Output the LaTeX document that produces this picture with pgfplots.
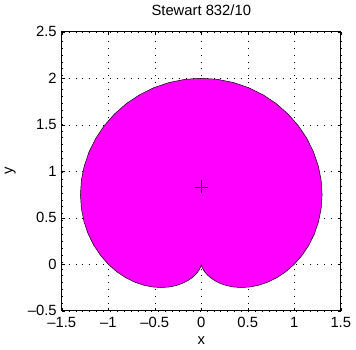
\documentclass[border=0pt]{standalone}
\usepackage{pgfplots}
\pgfplotsset{compat=1.18}
\usepackage{fontspec}
\setmainfont{Liberation Sans}
\definecolor{mag}{RGB}{255,0,255}
\begin{document}
\fontsize{15}{18}\selectfont
\begin{tikzpicture}
\begin{axis}[
  scale only axis,
  width=283pt, height=283pt,
  xmin=-1.5, xmax=1.5, ymin=-0.5, ymax=2.5,
  xtick={-1.5,-1,-0.5,0,0.5,1,1.5},
  xticklabels={\textendash1.5,\textendash1,\textendash0.5,0,0.5,1,1.5},
  ytick={-0.5,0,0.5,1,1.5,2,2.5},
  yticklabels={\textendash0.5,0,0.5,1,1.5,2,2.5},
  tick align=inside,
  major tick length=3pt,
  xtick pos=both, ytick pos=both,
  grid=major,
  major grid style={black, line width=0.5pt, dash pattern=on 0.8pt off 6.2pt},
  axis line style={black, line width=0.7pt},
  tick style={black, line width=0.5pt},
  title={Stewart 832/10},
  title style={yshift=5pt},
  xlabel={x}, ylabel={y},
  xticklabel style={yshift=-1pt},
  xlabel style={yshift=1pt},
  ylabel style={yshift=2pt},
  set layers,
]
\addplot[fill=mag, draw=black, line width=0.5pt] coordinates {
(1,0) (1.08302,0.09476) (1.1558,0.2038) (1.21593,0.32581) (1.2611,0.4590) (1.28933,0.60121) (1.2990,0.75)
(1.28900,0.90257) (1.2584,1.0560) (1.20711,1.20711) (1.1352,1.3528) (1.04343,1.49015) (0.9330,1.6160)
(0.80564,1.72770) (0.6634,1.8227) (0.50882,1.89895) (0.3446,1.9547) (0.17399,1.98858) (0,2)
(-0.17399,1.98858) (-0.3446,1.9547) (-0.50882,1.89895) (-0.6634,1.8227) (-0.80564,1.72770) (-0.9330,1.6160)
(-1.04343,1.49015) (-1.1352,1.3528) (-1.20711,1.20711) (-1.2584,1.0560) (-1.28900,0.90257) (-1.2990,0.75)
(-1.28933,0.60121) (-1.2611,0.4590) (-1.21593,0.32581) (-1.1558,0.2038) (-1.08302,0.09476) (-1,0)
(-0.90936,-0.07956) (-0.8138,-0.1435) (-0.71593,-0.19183) (-0.6183,-0.2250) (-0.52329,-0.24401) (-0.4330,-0.25)
(-0.34930,-0.24458) (-0.2736,-0.2296) (-0.20711,-0.20711) (-0.1504,-0.1792) (-0.10373,-0.14814) (-0.0670,-0.1160)
(-0.03960,-0.08491) (-0.0206,-0.0567) (-0.00882,-0.03291) (-0.0026,-0.0150) (-0.00033,-0.00380) (0,0)
(0.00033,-0.00380) (0.0026,-0.0150) (0.00882,-0.03291) (0.0206,-0.0567) (0.03960,-0.08491) (0.0670,-0.1160)
(0.10373,-0.14814) (0.1504,-0.1792) (0.20711,-0.20711) (0.2736,-0.2296) (0.34930,-0.24458) (0.4330,-0.25)
(0.52329,-0.24401) (0.6183,-0.2250) (0.71593,-0.19183) (0.8138,-0.1435) (0.90936,-0.07956) (1,0)
} -- cycle;
\addplot[only marks, mark=+, mark size=6.5pt, black, line width=0.5pt] coordinates {(0,0.8333)};
\end{axis}
\end{tikzpicture}
\end{document}
